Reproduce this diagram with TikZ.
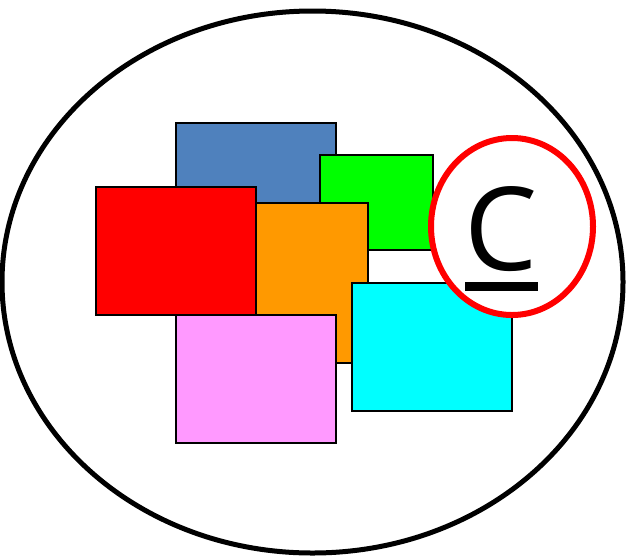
\documentclass[tikz,border=0pt]{standalone}
\usepackage{fontspec}
\setmainfont{Open Sans}
\usetikzlibrary{shapes.geometric}
\newcommand{\thickul}[1]{\setbox0\hbox{#1}\rlap{\rule[-21pt]{\wd0}{9pt}}\box0}
\definecolor{cardblue}{RGB}{79,129,189}
\definecolor{cardgreen}{RGB}{0,255,0}
\definecolor{cardorange}{RGB}{255,153,0}
\definecolor{cardred}{RGB}{255,0,0}
\definecolor{cardpink}{RGB}{255,153,255}
\definecolor{cardcyan}{RGB}{0,255,255}
\tikzset{
  card/.style={draw=black, line width=1.5pt, inner sep=0pt, minimum width=160pt, minimum height=128pt},
  ring/.style={ellipse, draw=cardred, fill=white, line width=6pt, inner sep=0pt, minimum width=162pt, minimum height=177pt}
}
\begin{document}
\begin{tikzpicture}[x=1pt,y=-1pt]
\useasboundingbox (0,0) rectangle (628,555);
\node[ellipse, draw=black, line width=5pt, minimum width=621pt, minimum height=542pt, inner sep=0pt] (outer) at (312.5,282) {};
% coloured cards
\node[card, fill=cardblue] (blue) at (256,187) {};
\node[card, fill=cardgreen, minimum width=113pt, minimum height=95pt] (green) at (376.5,202.5) {};
\node[card, fill=cardorange, minimum width=112pt, minimum height=160pt] (orange) at (312,283) {};
\node[card, fill=cardred] (redcard) at (176,251) {};
\node[card, fill=cardpink] (pink) at (256,379) {};
\node[card, fill=cardcyan] (cyancard) at (432,347) {};
% marked circle
\node[ring] (mark) at (512,226.5) {};
\node[anchor=base, inner sep=0pt] (letter) at (501.5,270) {\fontsize{116}{116}\selectfont\thickul{C}};
\end{tikzpicture}
\end{document}
